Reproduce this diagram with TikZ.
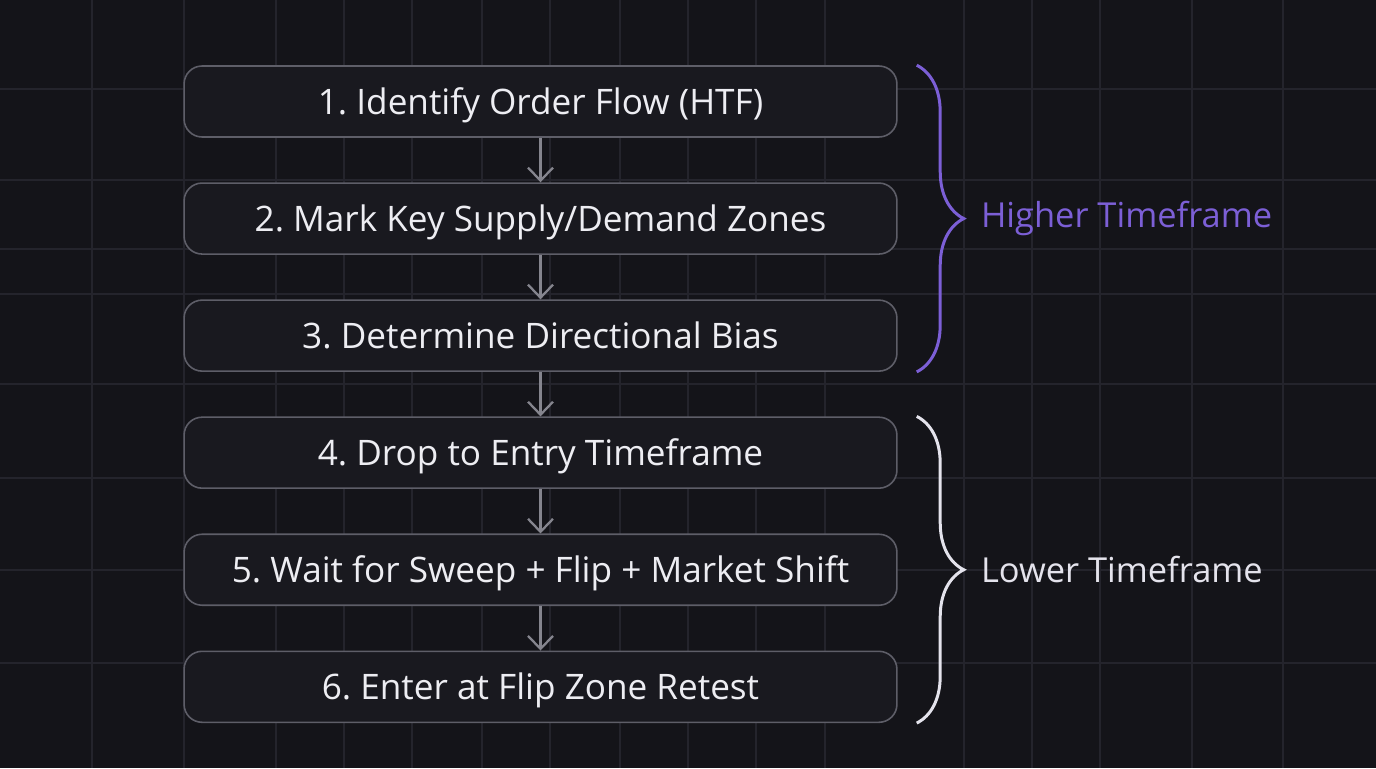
\documentclass[tikz,border=0pt]{standalone}
\usepackage{fontspec}
\setmainfont{Open Sans}
\frenchspacing
\usetikzlibrary{positioning,arrows.meta,decorations.pathreplacing}
\definecolor{bgdark}{HTML}{141419}
\definecolor{gridline}{HTML}{24242C}
\definecolor{boxfill}{HTML}{19191F}
\definecolor{boxline}{HTML}{5E5E68}
\definecolor{textwhite}{HTML}{EDEDF2}
\definecolor{arrowgray}{HTML}{85858E}
\definecolor{htfpurple}{HTML}{7C5FD6}
\definecolor{ltfwhite}{HTML}{E4E3EC}
\begin{document}
\begin{tikzpicture}[x=0.02cm,y=-0.02cm,
    stepbox/.style={draw=boxline, fill=boxfill, line width=0.9pt,
        rounded corners=0.36cm, minimum width=14.26cm, minimum height=1.42cm,
        text height=0.6cm, text depth=0.08cm,
        text=textwhite, font=\fontsize{20}{24}\selectfont},
    flow/.style={-{Straight Barb[length=0.26cm,width=0.5cm]},
        draw=arrowgray, line width=1.3pt},
    tfbrace/.style={decorate, decoration={brace, amplitude=0.94cm},
        line width=1.7pt},
    tflabel/.style={inner sep=0pt, anchor=west,
        font=\fontsize{19.6}{24}\selectfont}]
    \fill[bgdark] (0,0) rectangle (1376,768);
    \useasboundingbox (0,0) rectangle (1376,768);

    % grid
    \begin{scope}[draw=gridline, line width=0.9pt]
        \foreach \x in {92,184,276,344,412,482,550,620,688,756,825,964,1032,1100,1192,1283} {
                \draw (\x,0) -- (\x,768);
            }
        \foreach \y in {89,180,249,294,384,478,570,663} {
                \draw (0,\y) -- (1376,\y);
            }
    \end{scope}

    % steps
    \node[stepbox] (step1) at (540.5,101.5) {1. Identify Order Flow (HTF)};
    \node[stepbox, below=0.89cm of step1] (step2) {2. Mark Key Supply/Demand Zones};
    \node[stepbox, below=0.89cm of step2] (step3) {3. Determine Directional Bias};
    \node[stepbox, below=0.89cm of step3] (step4) {4. Drop to Entry Timeframe};
    \node[stepbox, below=0.89cm of step4] (step5) {5. Wait for Sweep + Flip + Market Shift};
    \node[stepbox, below=0.89cm of step5] (step6) {6. Enter at Flip Zone Retest};

    \foreach \a/\b in {1/2,2/3,3/4,4/5,5/6} {
            \draw[flow] (step\a) -- (step\b);
        }

    % timeframes
    \draw[tfbrace, htfpurple] ([xshift=0.38cm]step1.north east) -- ([xshift=0.38cm]step3.south east);
    \draw[tfbrace, ltfwhite] ([xshift=0.38cm]step4.north east) -- ([xshift=0.38cm]step6.south east);
    \node[tflabel, text=htfpurple, right=1.66cm of step2] (htf) {Higher Timeframe};
    \node[tflabel, text=ltfwhite, right=1.66cm of step5] (ltf) {Lower Timeframe};
\end{tikzpicture}
\end{document}
